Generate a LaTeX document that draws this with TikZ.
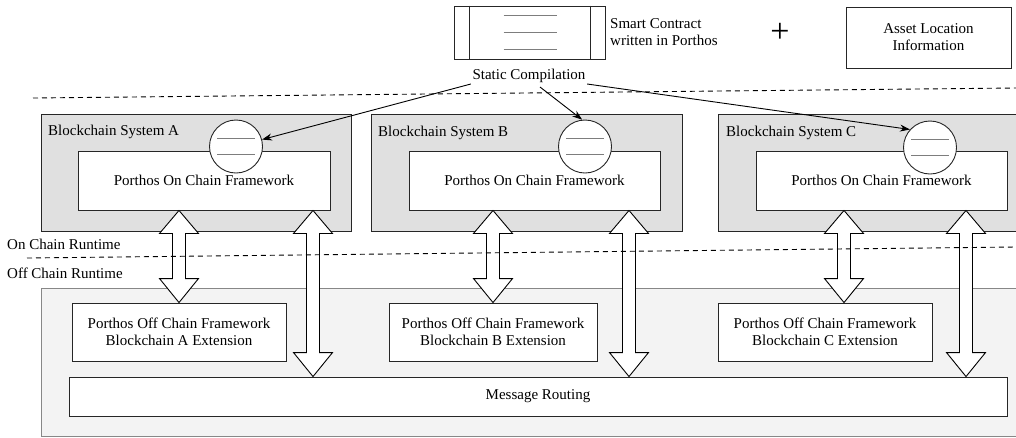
\documentclass[tikz,border=0pt]{standalone}
\usepackage{fontspec}
\setmainfont{Liberation Serif}
\usetikzlibrary{calc,arrows.meta}

\definecolor{chainfill}{RGB}{224,224,224}
\definecolor{offfill}{RGB}{243,243,243}
\definecolor{offedge}{RGB}{135,135,135}
\definecolor{ruleline}{RGB}{125,125,125}

% two-headed block arrow between a top point and a bottom point
\newcommand{\bidirarrow}[2]{%
  \path[blockarrow] let \p1=#1, \p2=#2 in
    (\x1,\y1) -- (\x1+19.5pt,\y1-23pt) -- (\x1+6.5pt,\y1-23pt)
    -- (\x1+6.5pt,\y2+24pt) -- (\x1+19.5pt,\y2+24pt) -- (\x1,\y2)
    -- (\x1-19.5pt,\y2+24pt) -- (\x1-6.5pt,\y2+24pt)
    -- (\x1-6.5pt,\y1-23pt) -- (\x1-19.5pt,\y1-23pt) -- cycle;}

\tikzset{
  every node/.style={font=\fontsize{15}{17}\selectfont},
  chainbox/.style={draw=black!85, fill=chainfill, line width=0.9pt, inner sep=0pt},
  whitebox/.style={draw=black!85, fill=white, line width=0.9pt, inner sep=0pt, align=center},
  offregion/.style={draw=offedge, fill=offfill, line width=1pt, inner sep=0pt},
  contract/.style={draw=black!85, fill=white, circle, line width=0.9pt, minimum size=53pt, inner sep=0pt},
  rule/.style={draw=ruleline, line width=0.8pt},
  divider/.style={draw=black, line width=0.9pt, dash pattern=on 5pt off 4pt},
  flow/.style={draw=black, line width=0.9pt, -{Stealth[length=10pt,width=7pt]}},
  blockarrow/.style={draw=black, fill=white, line width=0.9pt, line join=miter},
  plainlabel/.style={inner sep=0pt, align=left}
}

\begin{document}
\begin{tikzpicture}[x=1pt, y=-1pt]
\useasboundingbox (0,0) rectangle (1016,437);
\clip (0,0) rectangle (1016,437);

% off chain region
\node[offregion, minimum width=989pt, minimum height=148pt] (offreg) at (535.5,362) {};

% blockchain systems
\node[chainbox, minimum width=310pt, minimum height=117pt] (bcA) at (196,172.5) {};
\node[chainbox, minimum width=311pt, minimum height=117pt] (bcB) at (526.5,172.5) {};
\node[chainbox, minimum width=320pt, minimum height=117pt] (bcC) at (878,172.5) {};

\node[plainlabel, anchor=west] (labA) at (48,132) {Blockchain System A};
\node[plainlabel, anchor=west] (labB) at (378,133) {Blockchain System B};
\node[plainlabel, anchor=west] (labC) at (726,133) {Blockchain System C};

% on chain frameworks
\node[whitebox, minimum width=252pt, minimum height=59pt] (onA) at (204,180.5) {Porthos On Chain Framework};
\node[whitebox, minimum width=251pt, minimum height=59pt] (onB) at (534.5,180.5) {Porthos On Chain Framework};
\node[whitebox, minimum width=251pt, minimum height=59pt] (onC) at (881.5,180.5) {Porthos On Chain Framework};

% compiled contracts
\node[contract] (cA) at (236,146.5) {};
\node[contract] (cB) at (585,146.5) {};
\node[contract] (cC) at (930,147.5) {};
\foreach \c in {cA,cB,cC}{
  \draw[rule] ($(\c.center)+(-19,-8.5)$) -- ++(38,0);
  \draw[rule] ($(\c.center)+(-19,7.5)$) -- ++(38,0);
}

% off chain frameworks
\node[whitebox, minimum width=214pt, minimum height=58pt] (offA) at (179,332) {Porthos Off Chain Framework\\Blockchain A Extension};
\node[whitebox, minimum width=208pt, minimum height=58pt] (offB) at (493,332) {Porthos Off Chain Framework\\Blockchain B Extension};
\node[whitebox, minimum width=214pt, minimum height=58pt] (offC) at (825,332) {Porthos Off Chain Framework\\Blockchain C Extension};

\node[whitebox, minimum width=938pt, minimum height=39pt] (route) at (538,396.5) {Message Routing};

% block arrows
\bidirarrow{(179,0 |- onA.south)}{(179,0 |- offA.north)}
\bidirarrow{(313,0 |- onA.south)}{(313,0 |- route.north)}
\bidirarrow{(493,0 |- onB.south)}{(493,0 |- offB.north)}
\bidirarrow{(629,0 |- onB.south)}{(629,0 |- route.north)}
\bidirarrow{(844,0 |- onC.south)}{(844,0 |- offC.north)}
\bidirarrow{(966,0 |- onC.south)}{(966,0 |- route.north)}

% runtime boundary
\coordinate (onoffL) at (27,258);
\coordinate (onoffR) at (1016,247);
\draw[divider] (onoffL) -- (onoffR);
\node[plainlabel, anchor=west] (onrt) at (7,244) {On Chain Runtime};
\node[plainlabel, anchor=west] (offrt) at (7,273) {Off Chain Runtime};

% source contract
\node[draw=black!85, fill=white, line width=0.9pt, minimum width=150.5pt, minimum height=53pt, inner sep=0pt] (src) at (530,32.5) {};
\draw[draw=black!85, line width=0.9pt] ($(src.north west)+(15,0)$) -- ($(src.south west)+(15,0)$);
\draw[draw=black!85, line width=0.9pt] ($(src.north east)+(-15,0)$) -- ($(src.south east)+(-15,0)$);
\draw[rule] ($(src.center)+(-26.5,-17.5)$) -- ++(53,0);
\draw[rule] ($(src.center)+(-26.5,-0.5)$) -- ++(53,0);
\draw[rule] ($(src.center)+(-26.5,16.5)$) -- ++(53,0);
\node[plainlabel, anchor=west] (srclab) at (610,32.5) {Smart Contract\\written in Porthos};

\node[inner sep=0pt, font=\fontsize{34}{34}\selectfont] (plus) at (780,33) {+};

\node[whitebox, minimum width=165pt, minimum height=61pt] (asset) at (928.5,37.5) {Asset Location\\Information};

% compilation step
\node[inner sep=1.5pt] (sc) at (529,75.5) {Static Compilation};
\coordinate (compL) at (33,98);
\coordinate (compR) at (1016,88);
\draw[divider] (compL) -- (compR);

\draw[flow] (sc.south west) -- (cA);
\draw[flow] ($(sc.south)+(11,3)$) -- (cB.96);
\draw[flow] (sc.south east) -- (cC.138);
\end{tikzpicture}
\end{document}
